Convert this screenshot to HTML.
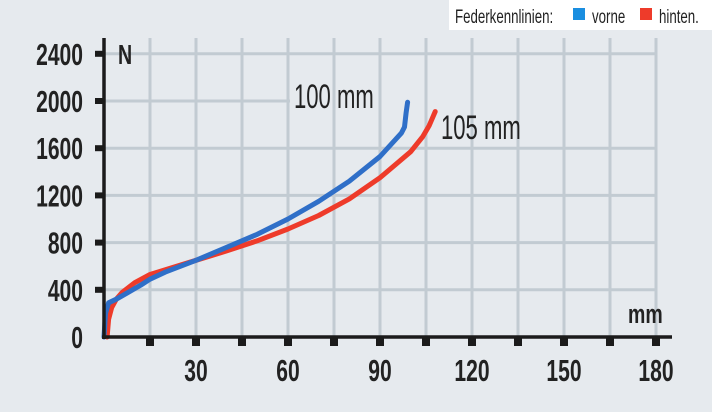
<!DOCTYPE html>
<html><head><meta charset="utf-8"><style>
html,body{margin:0;padding:0;background:#e6eaee;}
svg{display:block;}
text{font-family:"Liberation Sans",sans-serif;}
</style></head><body>
<svg id="s" width="712" height="412" viewBox="0 0 712 412" xmlns="http://www.w3.org/2000/svg">
<rect width="712" height="412" fill="#e6eaee"/>
<rect x="449" y="0" width="263" height="30" fill="#ffffff"/>
<text x="455" y="23" font-size="19" fill="#222" transform="translate(455 0) scale(0.7 1) translate(-455 0)">Federkennlinien:</text>
<rect x="573" y="8" width="12" height="12" fill="#1a8ee0"/>
<text x="592" y="23" font-size="19" fill="#222" transform="translate(592 0) scale(0.7 1) translate(-592 0)">vorne</text>
<rect x="640" y="8" width="12" height="12" fill="#ee3b2a"/>
<text x="659" y="23" font-size="19" fill="#222" transform="translate(659 0) scale(0.7 1) translate(-659 0)">hinten.</text>
<g id="grid" stroke="#c2cbd2" stroke-width="3"></g>
<g id="curves" fill="none" stroke-width="5" stroke-linejoin="round" stroke-linecap="round"></g>
<line x1="104" y1="38" x2="104" y2="339" stroke="#1b1b1b" stroke-width="3.5"/>
<line x1="102" y1="337" x2="672" y2="337" stroke="#1b1b1b" stroke-width="3.5"/>
<g id="ticks" fill="#1b1b1b"></g>
<g font-weight="bold" font-size="31" fill="#222" id="labels"></g>
<text x="118" y="64" font-size="28" font-weight="bold" fill="#222" transform="translate(118 0) scale(0.7 1) translate(-118 0)">N</text>
<text x="628" y="323" font-size="26" font-weight="bold" fill="#222" transform="translate(628 0) scale(0.75 1) translate(-628 0)">mm</text>
<text x="294" y="108" font-size="34" fill="#222" transform="translate(294 0) scale(0.65 1) translate(-294 0)">100 mm</text>
<text x="441" y="139" font-size="34" fill="#222" transform="translate(441 0) scale(0.65 1) translate(-441 0)">105 mm</text>
</svg>
<script>
var NS="http://www.w3.org/2000/svg";
function X(mm){return 104+mm*46/15;}
function Y(n){return 337-n*47.2/400;}
function el(p,t,a){var e=document.createElementNS(NS,t);for(var k in a)e.setAttribute(k,a[k]);p.appendChild(e);return e;}
var g=document.getElementById('grid');
for(var i=1;i<=12;i++){var x=X(i*15);el(g,'line',{x1:x,y1:38,x2:x,y2:337});}
for(var j=1;j<=6;j++){var y=Y(j*400);el(g,'line',{x1:104,y1:y,x2:(j==5?290:656),y2:y});}
var t=document.getElementById('ticks');
for(var i=1;i<=12;i++){el(t,'rect',{x:X(i*15)-4,y:337,width:8,height:9});}
for(var j=1;j<=6;j++){el(t,'rect',{x:95,y:Y(j*400)-3,width:9,height:6});}
var L=document.getElementById('labels');
var yl=['0','400','800','1200','1600','2000','2400'];
for(var j=0;j<=6;j++){var e=el(L,'text',{x:83,y:Y(j*400)+11,'text-anchor':'end',transform:'translate(83 0) scale(0.68 1) translate(-83 0)'});e.textContent=yl[j];}
for(var i=1;i<=6;i++){var x=X(i*30);var e=el(L,'text',{x:x,y:381,'text-anchor':'middle',transform:'translate('+x+' 0) scale(0.68 1) translate('+(-x)+' 0)'});e.textContent=String(i*30);}
function path(pts,col){var d='';pts.forEach(function(p,k){d+=(k?'L':'M')+X(p[0]).toFixed(1)+' '+Y(p[1]).toFixed(1)+' ';});el(document.getElementById('curves'),'path',{d:d,stroke:col});}
path([[1,0],[1.5,150],[2.5,250],[4,320],[6,380],[10,460],[15,530],[20,570],[30,650],[40,730],[50,815],[60,915],[70,1030],[80,1170],[90,1350],[100,1570],[104,1700],[106,1790],[108,1910]],'#ee3b2a');
path([[0,0],[0.5,200],[1.5,290],[4,320],[8,380],[12,440],[15,490],[20,550],[30,650],[40,760],[50,870],[60,1000],[70,1150],[80,1320],[90,1530],[97,1730],[98,1780],[98.5,1900],[99,1990]],'#2f6fc8');
</script>
</body></html>
